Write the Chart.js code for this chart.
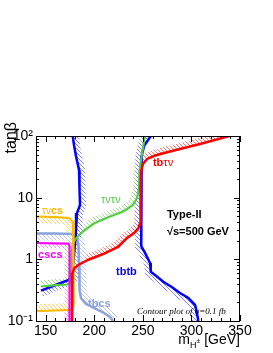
<!DOCTYPE html>
<html>
<head>
<meta charset="utf-8">
<script src="https://cdn.jsdelivr.net/npm/chart.js@4.4.1/dist/chart.umd.min.js"></script>
<style>
html, body { margin: 0; padding: 0; background: #fff; }
#wrap { width: 273px; height: 353px; }
</style>
</head>
<body>
<div id="wrap"><canvas id="chart" width="273" height="353"></canvas></div>
<script>
// axis ticks
const xTicks = [150, 200, 250, 300, 350];
const xMinorTicks = [140, 160, 170, 180, 190, 210, 220, 230, 240, 260, 270, 280, 290, 310, 320, 330, 340];
const yTicks = [0.1, 1, 10, 100];
const yTickLabels = ['10\u207B\u00B9', '1', '10', '10\u00B2'];
const yMinorTicks = [0.2, 0.3, 0.4, 0.5, 0.6, 0.7, 0.8, 0.9, 2, 3, 4, 5, 6, 7, 8, 9, 20, 30, 40, 50, 60, 70, 80, 90];

// contour lines: m_H+ [GeV] vs tan(beta)
const tbtbLowMass = [177.8, 179.1, 181.2, 184.3, 184.8, 185.3, 182.2, 181.2, 180.1, 178.1, 177.1, 172.9, 159.6, 145.1];
const tbtbLowTanb = [100, 71.4, 47, 28.1, 13.3, 7.6, 5.64, 2.99, 1.71, 0.81, 0.52, 0.46, 0.38, 0.31];

const tbtbHighMass = [258.1, 251.2, 248.8, 248.6, 248.1, 252.2, 257.4, 258.1, 262.5, 271.0, 279.7, 288.2, 296.8, 303.7, 305.4, 307.1];
const tbtbHighTanb = [100, 68.8, 47.4, 12.4, 1.64, 1.27, 0.873, 0.631, 0.557, 0.434, 0.356, 0.284, 0.236, 0.182, 0.142, 0.1];

const tbtnMass = [339.0, 308.8, 277.9, 262.5, 254.3, 250.1, 248.1, 247.6, 247.6, 245.5, 240.9, 233.7, 224.4, 209.0, 194.6, 184.3, 179.6, 177.6, 177.1, 177.1];
const tbtnTanb = [100, 74.2, 56.1, 48.3, 42.4, 35.2, 26.1, 13.3, 4.03, 3.22, 2.67, 2.22, 1.585, 1.22, 0.994, 0.825, 0.724, 0.600, 0.318, 0.1];

const tntnMass = [252.2, 250.1, 248.1, 246.5, 246.0, 244.0, 239.8, 233.7, 229.2, 215.5, 200.0, 188.1, 181.2, 177.8, 176.5, 176.0, 171.9, 160.6, 145.1];
const tntnTanb = [100, 63.9, 40.8, 26.1, 14.3, 9.88, 7.60, 6.55, 5.92, 4.91, 3.84, 2.81, 2.19, 1.82, 1.17, 0.409, 0.391, 0.383, 0.363];

const tncsMass = [140, 159.6, 174.0, 178.1, 178.6, 178.6, 178.6, 176.0, 159.6, 140];
const tncsTanb = [4.95, 4.86, 4.68, 4.03, 2.06, 0.462, 0.175, 0.151, 0.148, 0.145];

const tbcsMass = [140, 159.6, 178.1, 182.2, 183.7, 184.3, 184.8, 186.3, 191.5, 200.7, 210.0, 216.2, 219.3];
const tbcsTanb = [2.62, 2.62, 2.58, 2.26, 1.71, 0.809, 0.318, 0.236, 0.189, 0.160, 0.135, 0.116, 0.1];

const cscsMass = [140, 173.5, 174.5, 174.5];
const cscsTanb = [1.84, 1.80, 1.64, 0.1];

function pts(xs, ys) {
    return xs.map((x, i) => ({ x: x, y: ys[i] }));
}

// labels inside the frame, anchored in data coordinates
const plotLabels = [
    { x: 260.4, y: 32.6, color: '#ff0000', parts: [{ t: 'tb', w: 'bold', s: 11 }, { t: '\u03C4\u03BD', w: 'normal', s: 11 }] },
    { x: 206.9, y: 8.2, color: '#55cc44', parts: [{ t: '\u03C4\u03BD\u03C4\u03BD', w: 'normal', s: 11 }] },
    { x: 146.2, y: 5.43, color: '#f5b800', parts: [{ t: '\u03C4\u03BD', w: 'normal', s: 10 }, { t: 'cs', w: 'bold', s: 11 }] },
    { x: 142.1, y: 1.05, color: '#ff00ff', parts: [{ t: 'cscs', w: 'bold', s: 11 }] },
    { x: 193.5, y: 0.169, color: '#8ca4dc', parts: [{ t: 'tbcs', w: 'bold', s: 11 }] },
    { x: 222.4, y: 0.557, color: '#0000ff', parts: [{ t: 'tbtb', w: 'bold', s: 11 }] },
    { x: 274.8, y: 4.68, color: '#000', parts: [{ t: 'Type-II', w: 'bold', s: 11 }] },
    { x: 274.8, y: 2.48, color: '#000', parts: [{ t: '\u221As=500 GeV', w: 'bold', s: 11 }] },
    { x: 244.0, y: 0.130, color: '#000', parts: [{ t: 'Contour plot of \u03C3=0.1 fb', w: 'italic', s: 9, f: '"Liberation Serif", serif' }] }
];

function makeHatch(ctx, color) {
    const c = document.createElement('canvas');
    c.width = 4;
    c.height = 4;
    const g = c.getContext('2d');
    g.strokeStyle = color;
    g.lineWidth = 1;
    g.beginPath();
    g.moveTo(0, 0); g.lineTo(4, 4);
    g.moveTo(-1, 3); g.lineTo(1, 5);
    g.moveTo(3, -1); g.lineTo(5, 1);
    g.stroke();
    return ctx.createPattern(c, 'repeat');
}

// hatched band on one side of each contour
const hatchBands = {
    id: 'hatchBands',
    beforeDatasetsDraw(chart) {
        const { ctx, chartArea: a } = chart;
        ctx.save();
        ctx.beginPath();
        ctx.rect(a.left, a.top, a.right - a.left, a.bottom - a.top);
        ctx.clip();
        chart.data.datasets.forEach((ds, i) => {
            if (!ds.hatch) return;
            const p = chart.getDatasetMeta(i).data.map(e => ({ x: e.x, y: e.y }));
            const n = p.length;
            const segN = [];
            for (let k = 0; k < n - 1; k++) {
                const dx = p[k + 1].x - p[k].x, dy = p[k + 1].y - p[k].y;
                const len = Math.hypot(dx, dy) || 1;
                const s = Array.isArray(ds.hatch.side) ? ds.hatch.side[k] : ds.hatch.side;
                segN.push({ x: -dy / len * s, y: dx / len * s });
            }
            const off = p.map((q, k) => {
                const n1 = segN[Math.max(0, k - 1)], n2 = segN[Math.min(n - 2, k)];
                let nx = n1.x + n2.x, ny = n1.y + n2.y;
                let l = Math.hypot(nx, ny);
                if (l < 0.3) { nx = n2.x; ny = n2.y; l = 1; }
                nx /= l; ny /= l;
                const cos = Math.max(nx * n2.x + ny * n2.y, 0.6);
                const w = ds.hatch.width / cos;
                return { x: q.x + nx * w, y: q.y + ny * w };
            });
            ctx.beginPath();
            p.forEach((q, k) => k ? ctx.lineTo(q.x, q.y) : ctx.moveTo(q.x, q.y));
            for (let k = n - 1; k >= 0; k--) ctx.lineTo(off[k].x, off[k].y);
            ctx.closePath();
            ctx.fillStyle = makeHatch(ctx, ds.hatch.color);
            ctx.fill();
        });
        ctx.restore();
    }
};

// ROOT style frame with inward ticks, titles and labels
const frameAndText = {
    id: 'frameAndText',
    afterDraw(chart) {
        const { ctx, chartArea: a, scales: { x, y } } = chart;
        ctx.save();
        ctx.strokeStyle = '#000';
        ctx.lineWidth = 1;
        ctx.beginPath();
        ctx.rect(a.left + 0.5, a.top + 0.5, a.right - a.left - 1, a.bottom - a.top);
        const xt = (v, len) => {
            const px = Math.round(x.getPixelForValue(v)) + 0.5;
            ctx.moveTo(px, a.bottom); ctx.lineTo(px, a.bottom - len);
            ctx.moveTo(px, a.top); ctx.lineTo(px, a.top + len);
        };
        const yt = (v, len) => {
            const py = Math.round(y.getPixelForValue(v)) + 0.5;
            ctx.moveTo(a.left, py); ctx.lineTo(a.left + len, py);
            ctx.moveTo(a.right, py); ctx.lineTo(a.right - len, py);
        };
        xTicks.forEach(v => xt(v, 6));
        xMinorTicks.forEach(v => xt(v, 3));
        yTicks.forEach(v => yt(v, 6));
        yMinorTicks.forEach(v => yt(v, 3));
        ctx.stroke();

        ctx.textBaseline = 'alphabetic';
        ctx.textAlign = 'left';
        plotLabels.forEach(lab => {
            let px = x.getPixelForValue(lab.x);
            const py = y.getPixelForValue(lab.y);
            ctx.fillStyle = lab.color;
            lab.parts.forEach(part => {
                ctx.font = part.w + ' ' + part.s + 'px ' + (part.f || '"Liberation Sans", Arial, sans-serif');
                ctx.fillText(part.t, px, py);
                px += ctx.measureText(part.t).width;
            });
        });

        // y title
        ctx.fillStyle = '#000';
        ctx.font = '16px "Liberation Sans", Arial, sans-serif';
        ctx.save();
        ctx.translate(16, a.top - 14);
        ctx.rotate(-Math.PI / 2);
        ctx.textAlign = 'right';
        ctx.fillText('tan\u03B2', 0, 0);
        ctx.restore();

        // x title: m_{H±} [GeV]
        const base = 344;
        const f14 = '14px "Liberation Sans", Arial, sans-serif';
        const f9 = '9px "Liberation Sans", Arial, sans-serif';
        const f7 = '7px "Liberation Sans", Arial, sans-serif';
        ctx.font = f14; const wm = ctx.measureText('m').width; const wg = ctx.measureText(' [GeV]').width;
        ctx.font = f9; const wh = ctx.measureText('H').width;
        ctx.font = f7; const wpm = ctx.measureText('\u00B1').width;
        let tx = a.right - (wm + wh + wpm + wg);
        ctx.font = f14; ctx.fillText('m', tx, base); tx += wm;
        ctx.font = f9; ctx.fillText('H', tx, base + 4); tx += wh;
        ctx.font = f7; ctx.fillText('\u00B1', tx, base - 1); tx += wpm;
        ctx.font = f14; ctx.fillText(' [GeV]', tx, base);
        ctx.restore();
    }
};

const line = (data, color, width, hatch) => ({
    data: data,
    showLine: true,
    borderColor: color,
    borderWidth: width,
    pointRadius: 0,
    tension: 0,
    fill: false,
    hatch: hatch
});

new Chart(document.getElementById('chart').getContext('2d'), {
    type: 'scatter',
    data: {
        datasets: [
            line(pts(tbtnMass, tbtnTanb), '#ff0000', 2.5, { side: 1, width: 6, color: '#ff7a7a' }),
            line(pts(cscsMass, cscsTanb), '#ff00ff', 2.2, { side: 1, width: 5, color: '#ff8cff' }),
            line(pts(tncsMass, tncsTanb), '#ffbb00', 2.2, { side: 1, width: 7, color: '#ffd266' }),
            line(pts(tntnMass, tntnTanb), '#55cc44', 2.2, { side: 1, width: 6, color: '#a0e090' }),
            line(pts(tbtbLowMass, tbtbLowTanb), '#0000ff', 2.5, { side: -1, width: 6, color: '#8484ff' }),
            line(pts(tbtbHighMass, tbtbHighTanb), '#0000ff', 2.5, { side: 1, width: 6, color: '#8484ff' }),
            line(pts(tbcsMass, tbcsTanb), '#8ca4dc', 2.5, { side: [1, 1, -1, -1, -1, -1, -1, -1, -1, -1, -1, -1], width: 7, color: '#b8c6ee' })
        ]
    },
    options: {
        responsive: false,
        animation: false,
        layout: { padding: { top: 136, right: 33, left: 0, bottom: 0 } },
        plugins: { legend: { display: false }, tooltip: { enabled: false } },
        scales: {
            x: {
                type: 'linear',
                min: 140,
                max: 350,
                grid: { display: false, drawTicks: false },
                border: { display: false },
                afterBuildTicks: (s) => { s.ticks = xTicks.map(v => ({ value: v })); },
                afterFit: (s) => { s.height = 32; },
                ticks: {
                    maxRotation: 0,
                    padding: 2,
                    color: '#000',
                    font: { family: '"Liberation Sans", Arial, sans-serif', size: 14 },
                    callback: (v) => String(v)
                }
            },
            y: {
                type: 'logarithmic',
                min: 0.1,
                max: 100,
                grid: { display: false, drawTicks: false },
                border: { display: false },
                afterBuildTicks: (s) => { s.ticks = yTicks.map(v => ({ value: v })); },
                afterFit: (s) => { s.width = 36; },
                ticks: {
                    padding: 3,
                    color: '#000',
                    font: { family: '"Liberation Sans", Arial, sans-serif', size: 14 },
                    callback: (v) => yTickLabels[yTicks.indexOf(v)]
                }
            }
        }
    },
    plugins: [hatchBands, frameAndText]
});
</script>
</body>
</html>
